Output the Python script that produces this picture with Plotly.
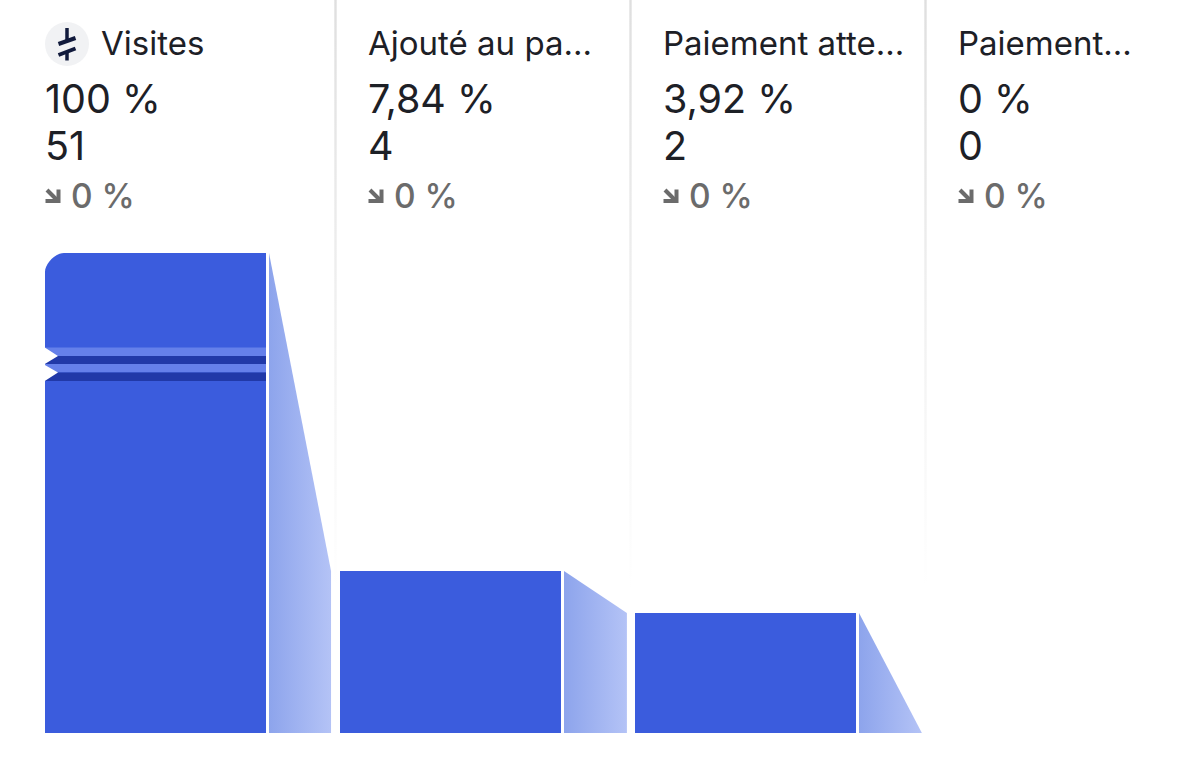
import plotly.graph_objects as go

W, H = 1200, 771

# Data
steps = ["Visites", "Ajouté au pa...", "Paiement atte...", "Paiement..."]
percents = ["100 %", "7,84 %", "3,92 %", "0 %"]
counts = ["51", "4", "2", "0"]
changes = ["0 %", "0 %", "0 %", "0 %"]
# bar heights as displayed (broken axis, share of the tallest bar)
bar_heights = [100, 33.75, 25, 0]

BLUE = "#3b5cdd"
INK = "#1d2026"
GREY = "#6b6b6b"
FONT = "Inter"

# Axes: one unit of x = one funnel column; y = displayed height
COL = 295.0
X0_PX = 155.5
Y0_PX = 733.0
Y_SCALE = 4.8
x_range = [-X0_PX / COL, (W - X0_PX) / COL]
y_range = [-(H - Y0_PX) / Y_SCALE, (Y0_PX) / Y_SCALE]


def fx(px):
    return px / W


def fy(py):
    return 1 - py / H


fig = go.Figure()

# fading column dividers
for i in range(3):
    c = i + (335.5 - X0_PX) / COL
    hw = 1.2 / COL
    fig.add_trace(go.Scatter(
        x=[c - hw, c + hw, c + hw, c - hw, c - hw],
        y=[y_range[1], y_range[1], 30, 30, y_range[1]],
        mode="lines", line=dict(width=0), fill="toself",
        fillgradient=dict(type="vertical",
                          colorscale=[[0, "#ffffff"], [0.4, "#f3f3f3"], [1, "#dfdfdf"]]),
        hoverinfo="skip", showlegend=False))

# bars
fig.add_trace(go.Bar(
    x=list(range(len(steps))), y=bar_heights, width=221 / COL,
    marker=dict(color=BLUE, line=dict(width=0)),
    hovertext=steps, hoverinfo="text", showlegend=False))

# gradient connectors between bars
for i in range(3):
    left = i + 0.3847
    right = i + (0.598 if i else 0.595)
    fig.add_trace(go.Scatter(
        x=[left, right, right, left, left],
        y=[0, 0, bar_heights[i + 1], bar_heights[i], 0],
        mode="lines", line=dict(width=0), fill="toself",
        fillgradient=dict(type="horizontal",
                          colorscale=[[0, "#8da4ec"], [1, "#b4c3f6"]]),
        hoverinfo="skip", showlegend=False))

shapes = []


def rect(x0, y0, x1, y1, color):
    shapes.append(dict(type="rect", xref="paper", yref="paper", layer="above",
                       x0=fx(x0), x1=fx(x1), y0=fy(y0), y1=fy(y1),
                       fillcolor=color, line=dict(width=0)))


def path(points, fill=None, stroke=None, width=0, close=True):
    d = "M" + " L".join(f"{fx(a):.5f},{fy(b):.5f}" for a, b in points) + (" Z" if close else "")
    shapes.append(dict(type="path", xref="paper", yref="paper", layer="above", path=d,
                       fillcolor=fill if fill else "rgba(0,0,0,0)",
                       line=dict(width=width, color=stroke if stroke else "rgba(0,0,0,0)")))


# axis-break bands on the first bar
rect(45, 347.5, 266, 356, "#6580ea")
rect(45, 356, 266, 364, "#2139a8")
rect(45, 364, 266, 372.5, "#6580ea")
rect(45, 372.5, 266, 381, "#2139a8")
path([(44, 347), (58, 356), (44, 364.5), (58, 372.5), (44, 381.5)], fill="#ffffff")

# rounded top-left corner mask
r = 19
k = 0.45 * r
shapes.append(dict(
    type="path", xref="paper", yref="paper", layer="above",
    path=(f"M{fx(44):.5f},{fy(252):.5f} L{fx(45 + r):.5f},{fy(252):.5f} "
          f"L{fx(45 + r):.5f},{fy(253):.5f} "
          f"C{fx(45 + r - k):.5f},{fy(253):.5f} {fx(45):.5f},{fy(253 + r - k):.5f} {fx(45):.5f},{fy(253 + r):.5f} "
          f"L{fx(44):.5f},{fy(253 + r):.5f} Z"),
    fillcolor="#ffffff", line=dict(width=0)))

# step icon
shapes.append(dict(type="circle", xref="paper", yref="paper", layer="above",
                   x0=fx(45), x1=fx(89), y0=fy(66), y1=fy(22),
                   fillcolor="#f1f2f4", line=dict(width=0)))
NAVY = "#111a3c"
path([(67, 28), (67, 40.5)], stroke=NAVY, width=3.5, close=False)
path([(67, 52), (67, 60.5)], stroke=NAVY, width=3.5, close=False)
path([(58.5, 44), (75.5, 38)], stroke=NAVY, width=4, close=False)
path([(58.5, 55), (75.5, 48.5)], stroke=NAVY, width=4, close=False)

# little arrows in the change row
for ax in [45, 368, 663, 958]:
    path([(ax + 2, 190), (ax + 12, 200)], stroke=GREY, width=4, close=False)
    path([(ax + 13.5, 189.5), (ax + 13.5, 201), (ax + 0.5, 201)], stroke=GREY, width=4, close=False)

fig.update_layout(
    width=W, height=H, margin=dict(l=0, r=0, t=0, b=0),
    paper_bgcolor="#ffffff", plot_bgcolor="#ffffff",
    showlegend=False, bargap=0, shapes=shapes,
    xaxis=dict(range=x_range, visible=False, fixedrange=True),
    yaxis=dict(range=y_range, visible=False, fixedrange=True),
)

# header text
label_x = [100.5, 367.5, 662.5, 957.5]
value_x = [44.5, 367.5, 662.5, 957.5]


def text(px, py, s, size, color, weight=400):
    fig.add_annotation(xref="paper", yref="paper", x=fx(px), y=fy(py), text=s,
                       showarrow=False, xanchor="left", yanchor="middle",
                       borderpad=0, borderwidth=0, align="left",
                       font=dict(family=FONT, size=size, color=color, weight=weight))


for i in range(4):
    text(label_x[i], 43, steps[i], 33, INK)
    text(value_x[i], 99, percents[i], 39.5, INK)
    text(value_x[i], 146, counts[i], 39.5, INK)
    text(value_x[i] + 26, 195.5, changes[i], 33.5, GREY, 500)

fig.write_html("out.html", config=dict(displayModeBar=False),
               post_script="document.body.style.margin='0';")
